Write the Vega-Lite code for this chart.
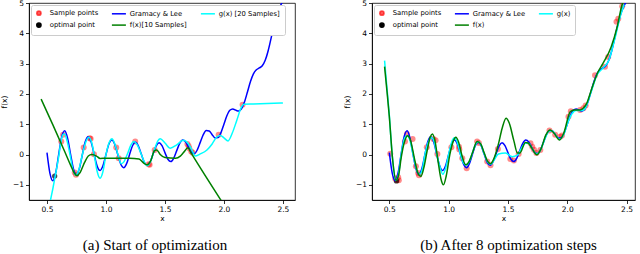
{
  "$schema": "https://vega.github.io/schema/vega-lite/v6.json",
  "background": "white",
  "padding": {"left": 0, "top": -2, "right": 0, "bottom": 0},
  "spacing": 47,
  "datasets": {
    "gl": [{"x":0.5,"y":0.0625},{"x":0.525,"y":-0.6225},{"x":0.55,"y":-0.8681},{"x":0.575,"y":-0.5823},{"x":0.6,"y":0.0256},{"x":0.625,"y":0.5855},{"x":0.65,"y":0.7842},{"x":0.675,"y":0.5349},{"x":0.7,"y":0.0081},{"x":0.725,"y":-0.482},{"x":0.75,"y":-0.6628},{"x":0.775,"y":-0.4536},{"x":0.8,"y":0.0016},{"x":0.825,"y":0.4295},{"x":0.85,"y":0.5887},{"x":0.875,"y":0.4043},{"x":0.9,"y":0.0001},{"x":0.925,"y":-0.3822},{"x":0.95,"y":-0.5263},{"x":0.975,"y":-0.3626},{"x":1.0,"y":0},{"x":1.025,"y":0.3449},{"x":1.05,"y":0.4762},{"x":1.075,"y":0.3289},{"x":1.1,"y":0.0001},{"x":1.125,"y":-0.314},{"x":1.15,"y":-0.4343},{"x":1.175,"y":-0.2999},{"x":1.2,"y":0.0016},{"x":1.225,"y":0.2912},{"x":1.25,"y":0.4039},{"x":1.275,"y":0.283},{"x":1.3,"y":0.0081},{"x":1.325,"y":-0.2557},{"x":1.35,"y":-0.3554},{"x":1.375,"y":-0.2374},{"x":1.4,"y":0.0256},{"x":1.425,"y":0.2807},{"x":1.45,"y":0.3858},{"x":1.475,"y":0.2906},{"x":1.5,"y":0.0625},{"x":1.525,"y":-0.1559},{"x":1.55,"y":-0.2311},{"x":1.575,"y":-0.1152},{"x":1.6,"y":0.1296},{"x":1.625,"y":0.3702},{"x":1.65,"y":0.4815},{"x":1.675,"y":0.4187},{"x":1.7,"y":0.2401},{"x":1.725,"y":0.0713},{"x":1.75,"y":0.0307},{"x":1.775,"y":0.1616},{"x":1.8,"y":0.4096},{"x":1.825,"y":0.657},{"x":1.85,"y":0.7923},{"x":1.875,"y":0.7748},{"x":1.9,"y":0.6561},{"x":1.925,"y":0.5484},{"x":1.95,"y":0.5581},{"x":1.975,"y":0.7247},{"x":2.0,"y":1.0},{"x":2.025,"y":1.2784},{"x":2.05,"y":1.4594},{"x":2.075,"y":1.5059},{"x":2.1,"y":1.4641},{"x":2.125,"y":1.4354},{"x":2.15,"y":1.5164},{"x":2.175,"y":1.7435},{"x":2.2,"y":2.0736},{"x":2.225,"y":2.4108},{"x":2.25,"y":2.6636},{"x":2.275,"y":2.798},{"x":2.3,"y":2.8561},{"x":2.325,"y":2.9301},{"x":2.35,"y":3.1087},{"x":2.375,"y":3.4255},{"x":2.4,"y":3.8416},{"x":2.425,"y":4.2692},{"x":2.45,"y":4.6246},{"x":2.475,"y":4.8761},{"x":2.5,"y":5.0625}],
    "g_a": [{"x":0.5,"y":-2.1},{"x":0.53,"y":-1.5},{"x":0.55,"y":-1.12},{"x":0.575,"y":-0.6},{"x":0.6,"y":-0.05},{"x":0.615,"y":0.35},{"x":0.635,"y":0.66},{"x":0.65,"y":0.68},{"x":0.67,"y":0.45},{"x":0.7,"y":-0.1},{"x":0.72,"y":-0.5},{"x":0.745,"y":-0.68},{"x":0.77,"y":-0.5},{"x":0.8,"y":0.0},{"x":0.83,"y":0.42},{"x":0.855,"y":0.57},{"x":0.88,"y":0.38},{"x":0.9,"y":0.0},{"x":0.925,"y":-0.55},{"x":0.95,"y":-0.78},{"x":0.975,"y":-0.55},{"x":1.0,"y":0.0},{"x":1.03,"y":0.42},{"x":1.05,"y":0.52},{"x":1.075,"y":0.35},{"x":1.1,"y":0.02},{"x":1.13,"y":-0.3},{"x":1.15,"y":-0.25},{"x":1.18,"y":0.0},{"x":1.21,"y":0.3},{"x":1.235,"y":0.43},{"x":1.26,"y":0.35},{"x":1.3,"y":0.0},{"x":1.33,"y":-0.28},{"x":1.35,"y":-0.37},{"x":1.375,"y":-0.25},{"x":1.41,"y":0.15},{"x":1.44,"y":0.45},{"x":1.46,"y":0.52},{"x":1.5,"y":0.38},{"x":1.545,"y":0.21},{"x":1.6,"y":0.32},{"x":1.655,"y":0.47},{"x":1.7,"y":0.35},{"x":1.735,"y":0.1},{"x":1.755,"y":-0.05},{"x":1.8,"y":0.02},{"x":1.856,"y":0.15},{"x":1.9,"y":0.35},{"x":1.94,"y":0.58},{"x":1.97,"y":0.63},{"x":2.0,"y":0.55},{"x":2.035,"y":0.45},{"x":2.07,"y":0.7},{"x":2.11,"y":1.14},{"x":2.15,"y":1.58},{"x":2.17,"y":1.66},{"x":2.25,"y":1.67},{"x":2.5,"y":1.7}],
    "f_a": [{"x":0.45,"y":1.83},{"x":0.55,"y":0.98},{"x":0.65,"y":0.1},{"x":0.7,"y":-0.35},{"x":0.73,"y":-0.6},{"x":0.755,"y":-0.7},{"x":0.78,"y":-0.6},{"x":0.82,"y":-0.25},{"x":0.85,"y":-0.05},{"x":0.88,"y":0.0},{"x":0.92,"y":-0.05},{"x":0.95,"y":-0.13},{"x":1.0,"y":-0.12},{"x":1.1,"y":-0.12},{"x":1.2,"y":-0.12},{"x":1.28,"y":-0.15},{"x":1.32,"y":-0.28},{"x":1.35,"y":-0.34},{"x":1.38,"y":-0.2},{"x":1.41,"y":0.12},{"x":1.43,"y":0.15},{"x":1.46,"y":0.0},{"x":1.5,"y":-0.1},{"x":1.59,"y":-0.12},{"x":1.63,"y":-0.05},{"x":1.66,"y":0.08},{"x":1.695,"y":0.22},{"x":1.72,"y":0.06},{"x":1.97,"y":-1.48},{"x":2.0,"y":-1.66}],
    "s_a": [{"x":0.621,"y":0.43},{"x":0.636,"y":0.65},{"x":0.735,"y":-0.59},{"x":0.746,"y":-0.67},{"x":0.811,"y":0.23},{"x":0.862,"y":0.54},{"x":0.87,"y":0.52},{"x":0.898,"y":0.01},{"x":1.087,"y":0.23},{"x":1.108,"y":-0.12},{"x":1.248,"y":0.43},{"x":1.362,"y":-0.32},{"x":1.37,"y":-0.34},{"x":1.413,"y":0.15},{"x":1.69,"y":0.35},{"x":1.7,"y":0.28},{"x":1.706,"y":0.21},{"x":1.723,"y":0.1},{"x":1.735,"y":0.06},{"x":1.955,"y":0.65},{"x":2.158,"y":1.64}],
    "o_a": [{"x":0.565,"y":-0.71}],
    "g_b": [{"x":0.46,"y":3.1},{"x":0.48,"y":2.2},{"x":0.5,"y":1.3},{"x":0.52,"y":0.2},{"x":0.54,"y":-0.6},{"x":0.555,"y":-0.85},{"x":0.575,"y":-0.7},{"x":0.6,"y":0.0},{"x":0.625,"y":0.5},{"x":0.65,"y":0.62},{"x":0.675,"y":0.45},{"x":0.7,"y":0.0},{"x":0.73,"y":-0.5},{"x":0.755,"y":-0.65},{"x":0.78,"y":-0.45},{"x":0.8,"y":0.0},{"x":0.83,"y":0.42},{"x":0.855,"y":0.55},{"x":0.88,"y":0.4},{"x":0.9,"y":0.0},{"x":0.93,"y":-0.45},{"x":0.95,"y":-0.65},{"x":0.975,"y":-0.45},{"x":1.0,"y":0.0},{"x":1.025,"y":0.4},{"x":1.05,"y":0.55},{"x":1.075,"y":0.38},{"x":1.1,"y":0.0},{"x":1.125,"y":-0.28},{"x":1.15,"y":-0.35},{"x":1.175,"y":-0.22},{"x":1.2,"y":0.05},{"x":1.225,"y":0.32},{"x":1.25,"y":0.42},{"x":1.275,"y":0.3},{"x":1.3,"y":0.02},{"x":1.33,"y":-0.25},{"x":1.355,"y":-0.32},{"x":1.38,"y":-0.2},{"x":1.42,"y":0.02},{"x":1.48,"y":0.05},{"x":1.535,"y":-0.07},{"x":1.58,"y":-0.02},{"x":1.62,"y":0.25},{"x":1.65,"y":0.38},{"x":1.68,"y":0.35},{"x":1.7,"y":0.22},{"x":1.745,"y":0.02},{"x":1.775,"y":0.15},{"x":1.8,"y":0.4},{"x":1.85,"y":0.78},{"x":1.875,"y":0.78},{"x":1.9,"y":0.65},{"x":1.935,"y":0.5},{"x":1.975,"y":0.7},{"x":2.0,"y":1.0},{"x":2.05,"y":1.4},{"x":2.075,"y":1.45},{"x":2.1,"y":1.45},{"x":2.125,"y":1.45},{"x":2.15,"y":1.52},{"x":2.2,"y":2.05},{"x":2.25,"y":2.62},{"x":2.3,"y":2.85},{"x":2.35,"y":3.1},{"x":2.4,"y":3.8},{"x":2.45,"y":4.6},{"x":2.48,"y":4.95}],
    "f_b": [{"x":0.46,"y":2.9},{"x":0.48,"y":2.1},{"x":0.5,"y":1.25},{"x":0.528,"y":-0.17},{"x":0.556,"y":-0.85},{"x":0.58,"y":-0.65},{"x":0.6,"y":-0.1},{"x":0.63,"y":0.45},{"x":0.654,"y":0.62},{"x":0.68,"y":0.45},{"x":0.71,"y":-0.1},{"x":0.74,"y":-0.6},{"x":0.766,"y":-0.72},{"x":0.79,"y":-0.45},{"x":0.82,"y":0.15},{"x":0.845,"y":0.58},{"x":0.863,"y":0.68},{"x":0.885,"y":0.45},{"x":0.91,"y":-0.2},{"x":0.935,"y":-0.8},{"x":0.956,"y":-1.0},{"x":0.98,"y":-0.7},{"x":1.01,"y":0.0},{"x":1.04,"y":0.45},{"x":1.06,"y":0.57},{"x":1.085,"y":0.4},{"x":1.11,"y":0.0},{"x":1.143,"y":-0.34},{"x":1.17,"y":-0.25},{"x":1.2,"y":0.05},{"x":1.24,"y":0.43},{"x":1.27,"y":0.35},{"x":1.3,"y":0.05},{"x":1.325,"y":-0.2},{"x":1.353,"y":-0.3},{"x":1.38,"y":-0.15},{"x":1.42,"y":0.35},{"x":1.45,"y":0.85},{"x":1.484,"y":1.2},{"x":1.51,"y":1.05},{"x":1.55,"y":0.45},{"x":1.58,"y":0.05},{"x":1.6,"y":0.05},{"x":1.647,"y":0.4},{"x":1.67,"y":0.38},{"x":1.7,"y":0.22},{"x":1.744,"y":-0.01},{"x":1.78,"y":0.2},{"x":1.82,"y":0.65},{"x":1.857,"y":0.81},{"x":1.89,"y":0.7},{"x":1.935,"y":0.48},{"x":1.97,"y":0.7},{"x":2.025,"y":1.41},{"x":2.06,"y":1.47},{"x":2.108,"y":1.47},{"x":2.14,"y":1.55},{"x":2.164,"y":1.69},{"x":2.2,"y":2.1},{"x":2.26,"y":2.73},{"x":2.3,"y":3.0},{"x":2.37,"y":3.55},{"x":2.42,"y":4.2},{"x":2.457,"y":4.87},{"x":2.48,"y":5.15}],
    "s_b": [{"x":0.508,"y":0.03},{"x":0.55,"y":-0.8},{"x":0.565,"y":-0.85},{"x":0.575,"y":-0.75},{"x":0.58,"y":-0.85},{"x":0.632,"y":0.43},{"x":0.648,"y":0.68},{"x":0.696,"y":0.51},{"x":0.724,"y":-0.39},{"x":0.743,"y":-0.61},{"x":0.75,"y":-0.68},{"x":0.816,"y":0.24},{"x":0.872,"y":0.51},{"x":0.89,"y":0.47},{"x":0.905,"y":0.02},{"x":1.023,"y":0.24},{"x":1.087,"y":0.26},{"x":1.09,"y":0.17},{"x":1.115,"y":-0.12},{"x":1.152,"y":-0.45},{"x":1.24,"y":0.43},{"x":1.255,"y":0.38},{"x":1.325,"y":-0.23},{"x":1.353,"y":-0.35},{"x":1.415,"y":0.18},{"x":1.52,"y":-0.15},{"x":1.55,"y":-0.2},{"x":1.59,"y":0.02},{"x":1.69,"y":0.37},{"x":1.705,"y":0.26},{"x":1.72,"y":0.16},{"x":1.74,"y":0.05},{"x":1.773,"y":0.15},{"x":1.85,"y":0.79},{"x":1.898,"y":0.65},{"x":1.94,"y":0.59},{"x":1.955,"y":0.63},{"x":2.01,"y":1.25},{"x":2.03,"y":1.43},{"x":2.108,"y":1.47},{"x":2.136,"y":1.53},{"x":2.155,"y":1.62},{"x":2.234,"y":2.62},{"x":2.318,"y":2.9},{"x":2.345,"y":3.22},{"x":2.415,"y":4.38},{"x":2.43,"y":4.48},{"x":2.463,"y":4.89}],
    "o_b": [{"x":0.56,"y":-0.87}]
  },
  "resolve": {"scale": {"x": "independent", "y": "independent", "color": "independent", "shape": "independent"}},
  "hconcat": [
    {
      "width": 266,
      "height": 197,
      "title": {"text": "(a) Start of optimization", "orient": "bottom", "anchor": "middle", "font": "Liberation Serif", "fontSize": 15, "fontWeight": "normal", "color": "black", "offset": 16, "dx": -7},
      "encoding": {
        "x": {"field": "x", "type": "quantitative", "scale": {"domain": [0.3475, 2.6025], "nice": false, "zero": false}, "axis": {"title": "x", "values": [0.5, 1.0, 1.5, 2.0, 2.5], "format": ".1f"}},
        "y": {"field": "y", "type": "quantitative", "scale": {"domain": [-1.5, 5], "nice": false, "zero": false}, "axis": {"title": "f(x)", "values": [-1, 0, 1, 2, 3, 4, 5], "format": "d"}}
      },
      "layer": [
        {"data": {"name": "s_a"}, "mark": {"type": "point", "filled": true, "size": 36, "clip": true},
         "encoding": {
           "color": {"datum": "Sample points", "scale": {"domain": ["Sample points", "optimal point", "Gramacy & Lee", "f(x)[10 Samples]", "g(x) [20 Samples]"], "range": ["rgba(255,0,0,0.65)", "#000000", "#0000ff", "#008000", "#00ffff"]}, "legend": {"title": null, "orient": "top-left", "columns": 3}},
           "shape": {"datum": "Sample points", "scale": {"domain": ["Sample points", "optimal point", "Gramacy & Lee", "f(x)[10 Samples]", "g(x) [20 Samples]"], "range": ["circle", "circle", "M-3.3,0H3.3", "M-3.3,0H3.3", "M-3.3,0H3.3"]}, "legend": {"title": null, "orient": "top-left", "columns": 3}}
         }},
        {"data": {"name": "o_a"}, "mark": {"type": "point", "filled": true, "size": 28, "clip": true},
         "encoding": {"color": {"datum": "optimal point"}, "shape": {"datum": "optimal point"}}},
        {"data": {"name": "gl"}, "mark": {"type": "line", "strokeWidth": 1.5, "interpolate": "monotone", "clip": true},
         "encoding": {"color": {"datum": "Gramacy & Lee"}}},
        {"data": {"name": "g_a"}, "mark": {"type": "line", "strokeWidth": 1.5, "interpolate": "monotone", "clip": true},
         "encoding": {"color": {"datum": "g(x) [20 Samples]"}}},
        {"data": {"name": "f_a"}, "mark": {"type": "line", "strokeWidth": 1.5, "interpolate": "monotone", "clip": true},
         "encoding": {"color": {"datum": "f(x)[10 Samples]"}}}
      ]
    },
    {
      "width": 263,
      "height": 197,
      "title": {"text": "(b) After 8 optimization steps", "orient": "bottom", "anchor": "middle", "font": "Liberation Serif", "fontSize": 15, "fontWeight": "normal", "color": "black", "offset": 16, "dx": 5},
      "encoding": {
        "x": {"field": "x", "type": "quantitative", "scale": {"domain": [0.354, 2.571], "nice": false, "zero": false}, "axis": {"title": "x", "values": [0.5, 1.0, 1.5, 2.0, 2.5], "format": ".1f"}},
        "y": {"field": "y", "type": "quantitative", "scale": {"domain": [-1.5, 5], "nice": false, "zero": false}, "axis": {"title": "f(x)", "values": [-1, 0, 1, 2, 3, 4, 5], "format": "d"}}
      },
      "layer": [
        {"data": {"name": "s_b"}, "mark": {"type": "point", "filled": true, "size": 36, "clip": true},
         "encoding": {
           "color": {"datum": "Sample points", "scale": {"domain": ["Sample points", "optimal point", "Gramacy & Lee", "f(x)", "g(x)"], "range": ["rgba(255,0,0,0.65)", "#000000", "#0000ff", "#008000", "#00ffff"]}, "legend": {"title": null, "orient": "top-left", "columns": 3}},
           "shape": {"datum": "Sample points", "scale": {"domain": ["Sample points", "optimal point", "Gramacy & Lee", "f(x)", "g(x)"], "range": ["circle", "circle", "M-3.3,0H3.3", "M-3.3,0H3.3", "M-3.3,0H3.3"]}, "legend": {"title": null, "orient": "top-left", "columns": 3}}
         }},
        {"data": {"name": "o_b"}, "mark": {"type": "point", "filled": true, "size": 28, "clip": true},
         "encoding": {"color": {"datum": "optimal point"}, "shape": {"datum": "optimal point"}}},
        {"data": {"name": "gl"}, "mark": {"type": "line", "strokeWidth": 1.5, "interpolate": "monotone", "clip": true},
         "encoding": {"color": {"datum": "Gramacy & Lee"}}},
        {"data": {"name": "g_b"}, "mark": {"type": "line", "strokeWidth": 1.5, "interpolate": "monotone", "clip": true},
         "encoding": {"color": {"datum": "g(x)"}}},
        {"data": {"name": "f_b"}, "mark": {"type": "line", "strokeWidth": 1.5, "interpolate": "monotone", "clip": true},
         "encoding": {"color": {"datum": "f(x)"}}}
      ]
    }
  ],
  "config": {
    "view": {"stroke": "black", "strokeWidth": 0.8},
    "axis": {"domainColor": "black", "domainWidth": 0.8, "tickColor": "black", "tickWidth": 0.8, "tickSize": 3.5, "labelPadding": 2, "labelFont": "DejaVu Sans", "labelFontSize": 7.5, "labelColor": "black", "titleFont": "DejaVu Sans", "titleFontSize": 7.5, "titleFontWeight": "normal", "titleColor": "black", "grid": false},
    "axisX": {"titlePadding": 1},
    "axisY": {"titlePadding": 4},
    "legend": {"offset": 1.5, "labelFont": "DejaVu Sans", "labelFontSize": 6.8, "labelColor": "black", "labelOffset": 7.5, "padding": 4.5, "strokeColor": "#cccccc", "fillColor": "white", "cornerRadius": 2, "rowPadding": 1.2, "columnPadding": 10, "symbolSize": 18, "symbolStrokeWidth": 1.5, "symbolOpacity": 1}
  }
}
